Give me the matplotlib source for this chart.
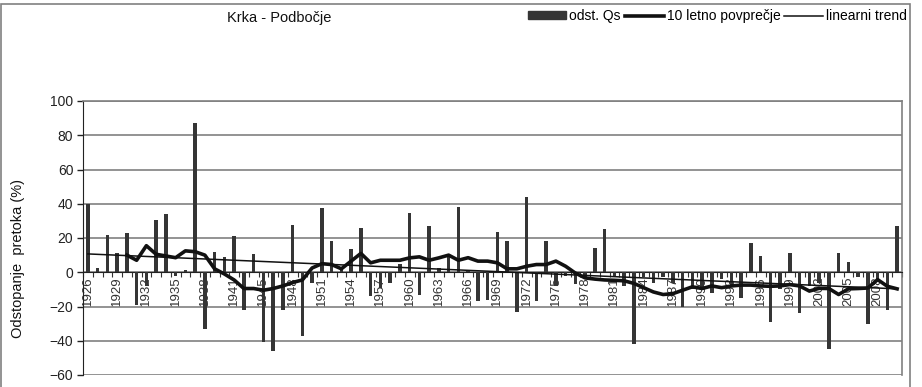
import numpy as np
import matplotlib
matplotlib.use('Agg')
import matplotlib.pyplot as plt
from matplotlib.lines import Line2D
from matplotlib.patches import Patch, Rectangle

plt.rcParams['font.family'] = ['Liberation Sans', 'DejaVu Sans']

# years on the category axis (one war year missing in the series)
years = [y for y in range(1926, 2011) if y != 1944]

# deviation of mean discharge from the long-term mean (%)
odst_qs = [40, 2.5, 22, 11, 23, -19, -8, 30.5, 34, -2,
           1.5, 87, -33, 12, 9, 21, -22, 10.5, -41, -46,
           -22, 27.5, -37, -6, 37.5, 18.5, 2, 13.5, 26, -14,
           -9, -6, 5, 34.5, -13, 27, 2.5, 10, 38, 0.5,
           -17, -16, 23.5, 18, -23, 44, -17, 18.5, -8, -2,
           -7, -3, 14, 25.5, -3, -8, -42, -3, -6, -3,
           -6, -20, -10, -9, -12, -4, -8, -15, 16.8, 9.5,
           -29, -10, 11.5, -24, -8, -6, -45, 11.5, 6, -3,
           -30, -5, -22, 27]

# 10-year moving average, starts at 1930
ma_start = 1930
ma_10 = [10, 7, 15.5, 10.5, 9.5, 8.5, 12.5, 12, 10, 2,
         -1, -4.5, -9.5, -9.5, -10.5, -9.5, -8, -6, -4.5, 2.5,
         5, 4.5, 2, 6.5, 11, 5.5, 7, 7, 7, 8.4,
         9, 7, 8.4, 10, 7, 8.5, 6.5, 6.5, 5.5, 2,
         2, 3.5, 4.5, 4.5, 6.5, 3.5, -0.5, -3.3, -4, -4.5,
         -4.7, -5, -6.5, -9, -11.5, -13, -12.5, -10.5, -8.5, -9.5,
         -8, -9, -8, -7.5, -7.5, -8, -8.2, -8, -7.2, -8,
         -11, -9.4, -9.5, -13, -9.7, -9.5, -9.2, -4.3, -8.2, -9.7]

# linear trend end points
trend_years = [1926, 2010]
trend_vals = [10.7, -9.7]

x = np.arange(len(years))
ma_x = np.arange(years.index(ma_start), years.index(ma_start) + len(ma_10))
trend_x = [years.index(y) for y in trend_years]
tick_idx = x[::3]
tick_labels = [str(years[i]) for i in tick_idx]

fig = plt.figure(figsize=(9.22, 3.87), dpi=100)
W, H = 922, 387
ax = fig.add_axes([83 / W, 1 - 375 / H, 819 / W, 274 / H])

# move the category axis to zero first (this resets the ticks)
ax.spines['bottom'].set_position(('data', 0))
ax.spines['bottom'].set_color('#222222')
ax.spines['left'].set_color('#222222')
for s in ['top', 'right']:
    ax.spines[s].set_color('#808080')
    ax.spines[s].set_linewidth(1.2)

ax.bar(x, odst_qs, width=0.34, color='#353535', zorder=3)
ax.plot(ma_x, ma_10, color='#111111', lw=2.6, zorder=4, solid_joinstyle='round')
ax.plot(trend_x, trend_vals, color='#111111', lw=1.1, zorder=4)

ax.set_xlim(-0.5, len(years) - 0.5)
ax.set_ylim(-60, 100)
ax.set_yticks(range(-60, 101, 20))
ax.tick_params(axis='y', labelsize=10, length=4, width=1, colors='#222222', pad=3)

ax.set_xticks(tick_idx)
ax.set_xticklabels(tick_labels)
ax.set_xticks(np.arange(-0.5, len(years), 1), minor=True)
ax.tick_params(axis='x', which='major', length=0, pad=3, labelrotation=90,
               labelsize=9.5, labelcolor='#333333')
ax.tick_params(axis='x', which='minor', length=3.5, width=0.8, direction='out', color='#333333')

ax.yaxis.grid(True, color='#808080', lw=1.2)
ax.set_axisbelow(True)

# outer chart frame
fig.patches.append(Rectangle((1 / W, -0.05), 909 / W, 1.05 - 4 / H, transform=fig.transFigure,
                             fill=False, edgecolor='#808080', lw=1.2))

fig.text(279 / W, 1 - 18 / H, 'Krka - Podbočje', ha='center', va='center', fontsize=10.5, color='#111111')
fig.text(18 / W, 1 - 258 / H, 'Odstopanje  pretoka (%)', rotation=90, ha='center', va='center',
         fontsize=10.5, color='#111111')

handles = [Patch(color='#353535'),
           Line2D([], [], color='#111111', lw=2.6),
           Line2D([], [], color='#111111', lw=1.1)]
labels = ['odst. Qs', '10 letno povprečje', 'linearni trend']
fig.legend(handles, labels, loc='center right', bbox_to_anchor=(907 / W, 1 - 16 / H), ncol=3,
           frameon=False, fontsize=10, handlelength=2.8, handleheight=0.5, handletextpad=0.2,
           columnspacing=0.3, borderaxespad=0, borderpad=0)

fig.savefig('out.png', dpi=100)
